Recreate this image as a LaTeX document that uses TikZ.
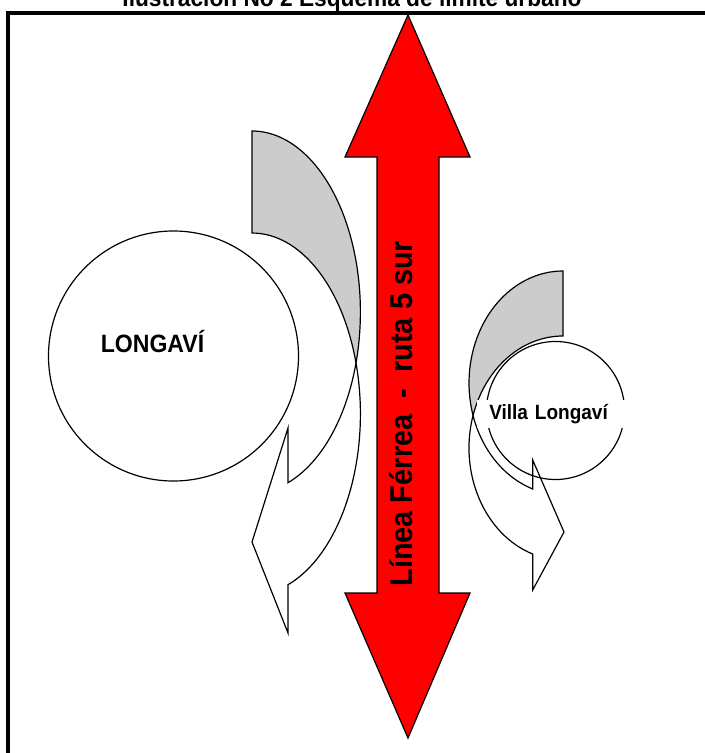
\documentclass[tikz,border=0pt]{standalone}
\usepackage{fontspec}
\setmainfont[FakeStretch=0.92]{Liberation Sans}
\usepackage{xcolor}
\usepackage{tikz}

\begin{document}
\begin{tikzpicture}[x=0.75pt, y=-0.75pt, line join=miter,
  town/.style={circle, draw, line width=0.9pt, inner sep=0pt},
  band/.style={draw, line width=0.9pt}]
  \useasboundingbox (0,0) rectangle (704,753);
  \draw [line width=3pt] (7.5,13) rectangle (730,780);
  \node [anchor=base, font=\bfseries\fontsize{18.5}{20}\selectfont] (title) at (352,6.7) {Ilustración No 2 Esquema de límite urbano};

  \draw [fill=red, line width=0.9pt] (408,15) -- (470,157) -- (439,157) -- (439,593) -- (470,593) -- (408,738)
    -- (345,593) -- (377,593) -- (377,157) -- (345,157) -- cycle;
  \node [rotate=90, anchor=base, font=\bfseries\fontsize{23.6}{26}\selectfont] (rail) at (412.7,413.7) {Línea Férrea\ \ -\ \ ruta 5 sur};

  \draw [band, fill=gray!40] (252,131) arc[start angle=-90, end angle=16.37, x radius=108.4, y radius=181]
    arc[start angle=-16.37, end angle=-90, x radius=108.4, y radius=181] -- cycle;
  \draw [band, fill=white] (288,428) -- (252,542) -- (288,633) -- (288,584.7)
    arc[start angle=70.6, end angle=-16.37, x radius=108.4, y radius=181]
    arc[start angle=16.37, end angle=70.6, x radius=108.4, y radius=181] -- cycle;
  \node [town, minimum size=187.5pt] (longavi) at (173.5,356) {};
  \node [anchor=base, font=\bfseries\fontsize{18.8}{20}\selectfont] (longaviname) at (152.5,352.7) {LONGAVÍ};

  \draw [band, fill=gray!40] (563,271) arc[start angle=-90, end angle=-196.87, x radius=94, y radius=112]
    arc[start angle=-163.13, end angle=-90, x radius=94, y radius=112] -- cycle;
  \draw [band, fill=white] (532.7,460) -- (564,532) -- (532.7,590) -- (532.7,554)
    arc[start angle=108.8, end angle=196.87, x radius=94, y radius=112]
    arc[start angle=163.13, end angle=108.8, x radius=94, y radius=112] -- cycle;
  \node [town, minimum size=103.5pt] (villa) at (555.5,410.5) {};
  \node [anchor=base west, fill=white, inner xsep=9pt, text width=96.75pt, align=left,
    font=\bfseries\fontsize{15.5}{17}\selectfont] (villaname) at (477,419.3) {Villa Longaví};
\end{tikzpicture}
\end{document}
